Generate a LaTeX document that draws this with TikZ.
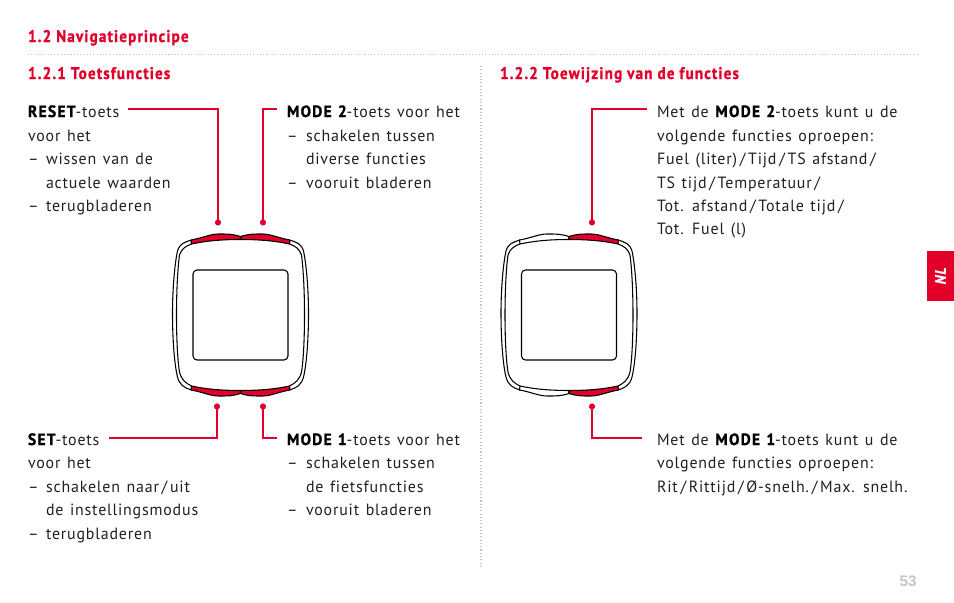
\documentclass[tikz,border=0pt]{standalone}
\usepackage{fontspec}
\setmainfont{PT Sans}[FakeStretch=0.98,LetterSpace=5,WordSpace=1.3,Ligatures=NoCommon]
\newfontfamily\hdfont{PT Sans Bold}[FakeStretch=0.9,LetterSpace=7,FakeBold=1.2,Ligatures=NoCommon]
\newfontfamily\bdfont{PT Sans Bold}[FakeStretch=0.95,LetterSpace=8,FakeBold=1.2,WordSpace=1.2]
\newfontfamily\pgfont{Liberation Sans Bold}
\definecolor{sigma}{HTML}{E2002B}
\definecolor{dotgrey}{HTML}{C4C4C4}
\newcommand{\btn}[1]{{\bdfont\color{black}#1}}
\tikzset{
  x=0.75pt,y=-0.75pt,
  txt/.style={anchor=base west,inner sep=0,outer sep=0,font=\fontsize{12.2pt}{14pt}\selectfont,text=black!88},
  head/.style={anchor=base west,inner sep=0,outer sep=0,font=\fontsize{12.6pt}{14pt}\selectfont\hdfont,text=sigma},
  conn/.style={draw=sigma,line width=1.1pt,line join=miter},
  leaddot/.style={circle,fill=sigma,inner sep=0,minimum size=4.6pt},
  rule/.style={draw=dotgrey,line width=0.8pt,dash pattern=on 0.8pt off 1.65pt},
  hull/.style={draw=black,line width=0.8pt,line join=round},
  device/.pic={
    \foreach \s in {1,-1}{
      \begin{scope}[xscale=\s]
        \draw[hull] (-49,-75) .. controls (-56,-73) and (-61,-71) .. (-63,-64)
          .. controls (-66,-50) and (-68,-25) .. (-68,-2)
          .. controls (-68,25) and (-66,50) .. (-63,62)
          .. controls (-61,70) and (-56,73) .. (-49,75);
        \draw[hull] (-49,-71) .. controls (-55,-69) and (-59,-66) .. (-61,-60)
          .. controls (-63,-45) and (-64,-22) .. (-64,0)
          .. controls (-64,22) and (-63,45) .. (-61,57)
          .. controls (-59,65) and (-55,68) .. (-49,71);
      \end{scope}
    }
    \foreach \sx/\col in {-1/\pgfkeysvalueof{/tikz/leftbtn},1/sigma}{
      \foreach \sy in {1,-1}{
        \begin{scope}[xscale=\sx,yscale=\sy]
          \path[draw=black,line width=0.8pt,line join=round,fill=\col]
            (0,-78.5) .. controls (8,-81) and (12,-81) .. (22,-81)
            .. controls (30,-81) and (38,-77) .. (49.5,-75)
            -- (49,-71) .. controls (35,-74) and (20,-75.5) .. (0,-75.5) -- cycle;
        \end{scope}
      }
    }
    \draw[line width=0.8pt,rounded corners=3pt] (-47.5,-45) rectangle (47.5,45);
  },
  leftbtn/.initial=sigma
}
\begin{document}
\begin{tikzpicture}
\useasboundingbox (0,0) rectangle (954,603);

\coordinate (ruleA) at (28,54.5); \coordinate (ruleB) at (917,54.5);
\coordinate (ruleC) at (481,66); \coordinate (ruleD) at (481,566);
\draw[rule] (ruleA) -- (ruleB);
\draw[rule] (ruleC) -- (ruleD);

\node[head] (h0) at (28,42) {1.2 Navigatieprincipe};
\node[head] (h1) at (28,79) {1.2.1 Toetsfuncties};
\node[head] (h2) at (500,79) {1.2.2 Toewijzing van de functies};

\node[txt] (r1) at (28,117) {\btn{RESET}-toets};
\node[txt] (r2) at (28,141) {voor het};
\node[txt] (r3) at (28,164) {–};
\node[txt] (r3b) at (46,164) {wissen van de};
\node[txt] (r4) at (46,188) {actuele waarden};
\node[txt] (r5) at (28,211) {–};
\node[txt] (r5b) at (46,211) {terugbladeren};

\node[txt] (m1) at (287,117) {\btn{MODE 2}-toets voor het};
\node[txt] (m2) at (287,141) {–};
\node[txt] (m2b) at (306,141) {schakelen tussen};
\node[txt] (m3) at (306,164) {diverse functies};
\node[txt] (m4) at (287,188) {–};
\node[txt] (m4b) at (306,188) {vooruit bladeren};

\node[txt] (s1) at (28,445) {\btn{SET}-toets};
\node[txt] (s2) at (28,468) {voor het};
\node[txt] (s3) at (28,492) {–};
\node[txt] (s3b) at (46,492) {schakelen naar\,/\,uit};
\node[txt] (s4) at (46,515) {de instellingsmodus};
\node[txt] (s5) at (28,539) {–};
\node[txt] (s5b) at (46,539) {terugbladeren};

\node[txt] (n1) at (287,445) {\btn{MODE 1}-toets voor het};
\node[txt] (n2) at (287,468) {–};
\node[txt] (n2b) at (306,468) {schakelen tussen};
\node[txt] (n3) at (306,492) {de fietsfuncties};
\node[txt] (n4) at (287,515) {–};
\node[txt] (n4b) at (306,515) {vooruit bladeren};

\node[txt] (a1) at (657,117) {Met de \btn{MODE 2}-toets kunt u de};
\node[txt] (a2) at (657,141) {volgende functies oproepen:};
\node[txt] (a3) at (657,164) {Fuel (liter)\,/\,Tijd\,/\,TS afstand\,/};
\node[txt] (a4) at (657,188) {TS tijd\,/\,Temperatuur\,/};
\node[txt] (a5) at (657,211) {Tot. afstand\,/\,Totale tijd\,/};
\node[txt] (a6) at (657,234) {Tot. Fuel (l)};

\node[txt] (b1) at (657,445) {Met de \btn{MODE 1}-toets kunt u de};
\node[txt] (b2) at (657,468) {volgende functies oproepen:};
\node[txt] (b3) at (657,492) {Rit\,/\,Rittijd\,/\,Ø-snelh.\,/\,Max. snelh.};

\pic at (240.5,315) {device};
\tikzset{leftbtn=white}
\pic at (569,315) {device};

\node[leaddot] (d1) at (218,222.5) {};
\node[leaddot] (d2) at (263,222.5) {};
\node[leaddot] (d3) at (217,406.5) {};
\node[leaddot] (d4) at (263,406.5) {};
\node[leaddot] (d5) at (592,222.5) {};
\node[leaddot] (d6) at (592,406.5) {};

\coordinate (c1) at (128,109);
\coordinate (c2) at (277,109);
\coordinate (c3) at (109,438);
\coordinate (c4) at (277,438);
\coordinate (c5) at (647,109);
\coordinate (c6) at (642,438);
\draw[conn] (c1) -| (d1.center);
\draw[conn] (c2) -| (d2.center);
\draw[conn] (c3) -| (d3.center);
\draw[conn] (c4) -| (d4.center);
\draw[conn] (c5) -| (d5.center);
\draw[conn] (c6) -| (d6.center);

\fill[sigma] (927,251) rectangle (954,301);
\node[anchor=center,inner sep=0,text=white,font=\fontsize{11.5pt}{13pt}\selectfont\hdfont\itshape,rotate=90] (tab) at (940.5,276) {NL};
\node[anchor=base east,inner sep=0,text=dotgrey,font=\fontsize{11.5pt}{13pt}\selectfont\pgfont] (pg) at (917,586) {53};
\end{tikzpicture}
\end{document}
